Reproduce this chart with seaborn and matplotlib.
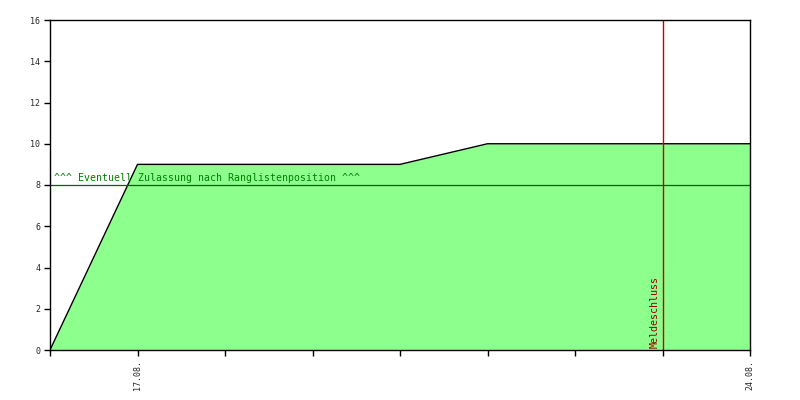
import numpy as np
import pandas as pd
import matplotlib
matplotlib.use('Agg')
import matplotlib.pyplot as plt
import seaborn as sns

days = ['16.08.', '17.08.', '18.08.', '19.08.', '20.08.', '21.08.', '22.08.', '23.08.', '24.08.']
entries = [0, 9, 9, 9, 9, 10, 10, 10, 10]
labelled_days = ['17.08.', '24.08.']
deadline_day = '23.08.'
threshold = 8
threshold_text = '^^^ Eventuell Zulassung nach Ranglistenposition ^^^'
y_ticks = [0, 2, 4, 6, 8, 10, 12, 14, 16]

sns.set_style('white')
plt.rcParams['font.family'] = ['DejaVu Sans Mono', 'DejaVu Sans']

df = pd.DataFrame({'day': np.arange(len(days)), 'entries': entries})

fig = plt.figure(figsize=(8, 4), dpi=100)
ax = fig.add_axes([0.0625, 0.125, 0.875, 0.825])

ax.fill_between(df['day'], df['entries'], color='#8cff8c', linewidth=0)
sns.lineplot(data=df, x='day', y='entries', ax=ax, color='black', linewidth=1)

ax.axhline(threshold, color='#006600', linewidth=0.9)
ax.text(0.05, threshold + 0.12, threshold_text, color='#008000', fontsize=7.1,
        ha='left', va='bottom')

dl = days.index(deadline_day)
ax.axvline(dl, color='#cc0000', linewidth=1)
ax.text(dl - 0.03, 0.1, 'Meldeschluss', color='#990000', fontsize=7.2,
        rotation=90, ha='right', va='bottom')

ax.set_xlim(0, len(days) - 1)
ax.set_ylim(0, 16)
ax.set_xticks(range(len(days)))
ax.set_xticklabels([d if d in labelled_days else '' for d in days],
                   rotation=90, fontsize=6)
ax.set_yticks(y_ticks)
ax.set_yticklabels([str(v) for v in y_ticks], fontsize=6)
ax.tick_params(axis='both', direction='out', length=4, width=1, color='black',
               bottom=True, left=True, pad=3)
ax.set_xlabel('')
ax.set_ylabel('')
for s in ax.spines.values():
    s.set_color('black')
    s.set_linewidth(1)

fig.savefig('out.png', dpi=100)
